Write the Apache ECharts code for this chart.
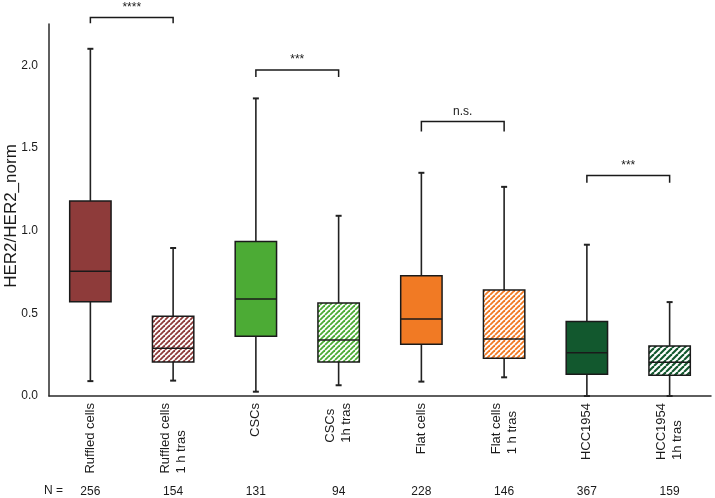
<!DOCTYPE html>
<html><head><meta charset="utf-8">
<script src="https://cdn.jsdelivr.net/npm/echarts@6/dist/echarts.min.js"></script>
<style>html,body{margin:0;padding:0;background:#fff}#c{width:715px;height:498px}</style>
</head><body><div id="c"></div>
<script>
// ---- data ----
const categories = ['Ruffled cells', 'Ruffled cells\n1 h tras', 'CSCs', 'CSCs\n1h tras', 'Flat cells', 'Flat cells\n1 h tras', 'HCC1954', 'HCC1954\n1h tras'];
const mins    = [0.09, 0.093, 0.026, 0.065, 0.087, 0.113, 0.0, 0.0];
const q1s     = [0.57, 0.206, 0.362, 0.206, 0.313, 0.228, 0.131, 0.125];
const medians = [0.755, 0.289, 0.586, 0.339, 0.465, 0.345, 0.262, 0.204];
const q3s     = [1.18, 0.483, 0.935, 0.562, 0.727, 0.641, 0.45, 0.303];
const maxs    = [2.10, 0.895, 1.80, 1.09, 1.35, 1.265, 0.915, 0.568];
const counts  = ['256', '154', '131', '94', '228', '146', '367', '159'];
const hatched = [false, true, false, true, false, true, false, true];
const yTicks  = [0, 0.5, 1.0, 1.5, 2.0];
// significance brackets: left category, right category, bar height, leg bottom, label
const bracketLeft   = [0, 2, 4, 6];
const bracketRight  = [1, 3, 5, 7];
const bracketTop    = [2.29, 1.972, 1.66, 1.333];
const bracketBottom = [2.255, 1.93, 1.60, 1.29];
const bracketLabels = ['****', '***', 'n.s.', '***'];

// ---- styles ----
const colors = ['#8e3b3a', '#8e3b3a', '#4cab35', '#4cab35', '#f17a24', '#f17a24', '#12582e', '#12582e'];
const hatchSize = [5, 5, 5, 5, 5, 5, 6, 6];
const font = 'Liberation Sans, Arial, Helvetica, sans-serif';

function makeHatch(color, s) {
  const c = document.createElement('canvas');
  c.width = s; c.height = s;
  const ctx = c.getContext('2d');
  ctx.fillStyle = '#ffffff';
  ctx.fillRect(0, 0, s, s);
  ctx.strokeStyle = color;
  ctx.lineWidth = s * 0.36;
  for (let k = -1; k <= 1; k++) {
    ctx.beginPath();
    ctx.moveTo(k * s, s);
    ctx.lineTo(k * s + s, 0);
    ctx.stroke();
  }
  return c;
}
const fills = categories.map((c, i) => hatched[i] ? { image: makeHatch(colors[i], hatchSize[i]), repeat: 'repeat' } : colors[i]);

const boxData = categories.map((c, i) => [i, mins[i], q1s[i], medians[i], q3s[i], maxs[i]]);
const bracketData = bracketLeft.map((l, i) => [l, bracketRight[i], bracketTop[i], bracketBottom[i]]);

function renderBox(params, api) {
  const i = api.value(0);
  const x = api.coord([i, 0])[0];
  const w = api.size([1, 0])[0] * 0.5;
  const yMin = api.coord([i, api.value(1)])[1];
  const yQ1 = api.coord([i, api.value(2)])[1];
  const yMed = api.coord([i, api.value(3)])[1];
  const yQ3 = api.coord([i, api.value(4)])[1];
  const yMax = api.coord([i, api.value(5)])[1];
  const lineStyle = { stroke: '#222222', lineWidth: 1.6 };
  const capStyle = { stroke: '#222222', lineWidth: 2 };
  return {
    type: 'group',
    children: [
      { type: 'line', shape: { x1: x, y1: yQ3, x2: x, y2: yMax }, style: lineStyle },
      { type: 'line', shape: { x1: x, y1: yQ1, x2: x, y2: yMin }, style: lineStyle },
      { type: 'line', shape: { x1: x - 3, y1: yMax, x2: x + 3, y2: yMax }, style: capStyle },
      { type: 'line', shape: { x1: x - 3, y1: yMin, x2: x + 3, y2: yMin }, style: capStyle },
      { type: 'rect', shape: { x: x - w / 2, y: yQ3, width: w, height: yQ1 - yQ3 },
        style: { fill: fills[i], stroke: '#1a1a1a', lineWidth: 1.5 } },
      { type: 'line', shape: { x1: x - w / 2, y1: yMed, x2: x + w / 2, y2: yMed }, style: { stroke: '#1a1a1a', lineWidth: 1.5 } }
    ]
  };
}

function renderBracket(params, api) {
  const l = api.coord([api.value(0), api.value(2)]);
  const r = api.coord([api.value(1), api.value(2)]);
  const yb = api.coord([api.value(0), api.value(3)])[1];
  const st = { stroke: '#1a1a1a', lineWidth: 1.5, fill: null };
  return {
    type: 'group',
    children: [
      { type: 'polyline', shape: { points: [[l[0], yb], [l[0], l[1]], [r[0], r[1]], [r[0], yb]] }, style: st },
      { type: 'text', x: (l[0] + r[0]) / 2, y: l[1] - 4,
        style: { text: bracketLabels[params.dataIndex], fill: '#1a1a1a', font: '12px ' + font, align: 'center', verticalAlign: 'bottom' } }
    ]
  };
}

const chart = echarts.init(document.getElementById('c'));
chart.setOption({
  animation: false,
  backgroundColor: '#ffffff',
  grid: { left: 49, right: 4, top: 24, bottom: 102, containLabel: false, outerBoundsMode: 'none' },
  xAxis: [{
    type: 'category',
    data: categories,
    boundaryGap: true,
    axisLine: { lineStyle: { color: '#2a2a2a', width: 1.5 } },
    axisTick: { alignWithLabel: true, length: 3, lineStyle: { color: '#2a2a2a' } },
    axisLabel: {
      rotate: 90, margin: 7, interval: 0, color: '#1a1a1a', fontSize: 13, fontFamily: font, lineHeight: 16,
      formatter: v => v.split('\n').map(s => '{a|' + s + '}').join('\n'),
      rich: { a: { align: 'left', fontSize: 13, fontFamily: font, color: '#1a1a1a', lineHeight: 16 } }
    },
    splitLine: { show: false }
  }, {
    type: 'category',
    data: counts,
    position: 'bottom',
    offset: 82,
    axisLine: { show: false },
    axisTick: { show: false },
    axisLabel: { interval: 0, margin: 8, color: '#1a1a1a', fontSize: 12, fontFamily: font },
    splitLine: { show: false }
  }],
  yAxis: {
    type: 'value',
    min: 0, max: 2.25, interval: 0.5,
    name: 'HER2/HER2_norm',
    nameLocation: 'middle',
    nameGap: 29,
    nameMoveOverlap: false,
    nameTextStyle: { fontSize: 17, fontFamily: font, color: '#1a1a1a', padding: [0, 12, 0, 0] },
    axisLine: { show: true, lineStyle: { color: '#2a2a2a', width: 1.5 } },
    axisTick: { show: false },
    splitLine: { show: false },
    axisLabel: {
      margin: 11, color: '#1a1a1a', fontSize: 12, fontFamily: font,
      formatter: v => yTicks.some(t => Math.abs(t - v) < 1e-9) ? v.toFixed(1) : ''
    }
  },
  graphic: [{
    type: 'text', left: 44, top: 485,
    style: { text: 'N =', fill: '#1a1a1a', font: '12px ' + font }
  }],
  series: [{
    type: 'custom',
    renderItem: renderBox,
    encode: { x: 0, y: [1, 2, 3, 4, 5] },
    data: boxData,
    clip: false,
    z: 2
  }, {
    type: 'custom',
    renderItem: renderBracket,
    encode: { x: [0, 1], y: [2, 3] },
    data: bracketData,
    clip: false,
    z: 3
  }]
});
</script>
</body></html>
